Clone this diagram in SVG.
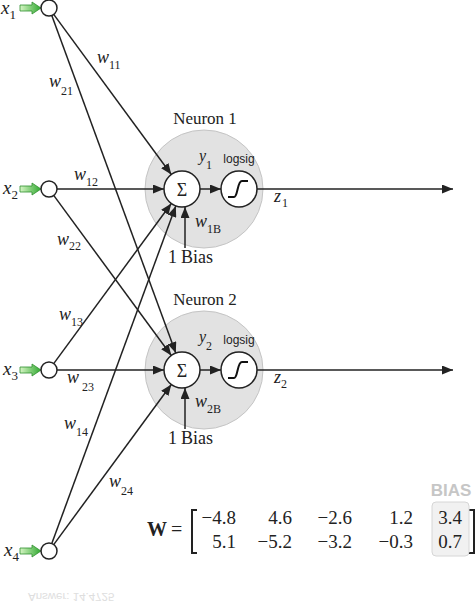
<svg xmlns="http://www.w3.org/2000/svg" width="476" height="602" viewBox="0 0 476 602">
<defs>
<style>
.t{font-family:"Liberation Serif","Times New Roman",serif;fill:#222}
.i{font-style:italic}
.s{font-family:"Liberation Sans",Arial,sans-serif;fill:#222}
.ln{stroke:#222;stroke-width:1.5;fill:none}
.in{fill:#fff;stroke:#222;stroke-width:1.5}
.big{fill:#e2e2e2;stroke:#c4c4c4;stroke-width:1}
.ga{fill:url(#g);stroke:#2f8f2f;stroke-width:0.8}
</style>
<linearGradient id="g" x1="0" y1="0" x2="1" y2="0">
<stop offset="0" stop-color="#d6f5c4"/>
<stop offset="1" stop-color="#2fa82f"/>
</linearGradient>
<marker id="ah" markerUnits="userSpaceOnUse" markerWidth="11" markerHeight="9" refX="11" refY="4.5" orient="auto">
<path d="M0,0 L11,4.5 L0,9 z" fill="#222"/>
</marker>
</defs>
<rect width="476" height="602" fill="#fff"/>

<g id="neuron1">
<circle class="big" cx="204" cy="189" r="59"/>
<text class="t" x="205" y="124" font-size="17" text-anchor="middle">Neuron 1</text>
<circle class="in" cx="182" cy="189" r="18"/>
<text class="t" x="182" y="195.5" font-size="18" text-anchor="middle">Σ</text>
<circle class="in" cx="239" cy="189" r="18"/>
<path d="M228,197 H234 C238,197 237,181 242,181 H248" stroke="#111" stroke-width="2" fill="none"/>
<text class="t i" x="199" y="161" font-size="16">y</text>
<text class="t" x="206" y="169" font-size="12">1</text>
<text class="s" x="239" y="163" font-size="12" text-anchor="middle">logsig</text>
<text class="t i" x="274" y="202" font-size="18">z</text>
<text class="t" x="282" y="207" font-size="12">1</text>
<text class="t i" x="195" y="227" font-size="18">w</text>
<text class="t" x="207" y="233" font-size="12">1B</text>
<text class="t" x="168" y="263" font-size="18">1</text>
<text class="t" x="181" y="263" font-size="18">Bias</text>
</g>

<g id="neuron2">
<circle class="big" cx="204" cy="370" r="59"/>
<text class="t" x="205" y="305" font-size="17" text-anchor="middle">Neuron 2</text>
<circle class="in" cx="182" cy="370" r="18"/>
<text class="t" x="182" y="376.5" font-size="18" text-anchor="middle">Σ</text>
<circle class="in" cx="239" cy="370" r="18"/>
<path d="M228,378 H234 C238,378 237,362 242,362 H248" stroke="#111" stroke-width="2" fill="none"/>
<text class="t i" x="199" y="342" font-size="16">y</text>
<text class="t" x="206" y="350" font-size="12">2</text>
<text class="s" x="239" y="344" font-size="12" text-anchor="middle">logsig</text>
<text class="t i" x="274" y="383" font-size="18">z</text>
<text class="t" x="281" y="388" font-size="12">2</text>
<text class="t i" x="195" y="407" font-size="18">w</text>
<text class="t" x="207" y="413" font-size="12">2B</text>
<text class="t" x="168" y="444" font-size="18">1</text>
<text class="t" x="181" y="444" font-size="18">Bias</text>
</g>

<g id="connectors">
<line class="ln" x1="53.7" y1="14.4" x2="171.3" y2="174.5" marker-end="url(#ah)"/>
<line class="ln" x1="51.8" y1="15.5" x2="175.8" y2="353.1" marker-end="url(#ah)"/>
<line class="ln" x1="57" y1="189" x2="164" y2="189" marker-end="url(#ah)"/>
<line class="ln" x1="53.7" y1="195.4" x2="171.3" y2="355.5" marker-end="url(#ah)"/>
<line class="ln" x1="53.7" y1="363.6" x2="171.3" y2="203.5" marker-end="url(#ah)"/>
<line class="ln" x1="57" y1="370" x2="164" y2="370" marker-end="url(#ah)"/>
<line class="ln" x1="51.8" y1="543.5" x2="175.8" y2="205.9" marker-end="url(#ah)"/>
<line class="ln" x1="53.7" y1="544.6" x2="171.3" y2="384.5" marker-end="url(#ah)"/>
<line class="ln" x1="185" y1="248" x2="185" y2="207" marker-end="url(#ah)"/>
<line class="ln" x1="185" y1="429" x2="185" y2="388" marker-end="url(#ah)"/>
<line class="ln" x1="200" y1="189" x2="221" y2="189" marker-end="url(#ah)"/>
<line class="ln" x1="200" y1="370" x2="221" y2="370" marker-end="url(#ah)"/>
<line class="ln" x1="257" y1="189" x2="453" y2="189" marker-end="url(#ah)"/>
<line class="ln" x1="257" y1="370" x2="453" y2="370" marker-end="url(#ah)"/>
</g>

<g id="weights">
<text class="t i" x="97" y="63" font-size="18">w</text><text class="t" x="109" y="69" font-size="12">11</text>
<text class="t i" x="49" y="87" font-size="18">w</text><text class="t" x="61" y="95" font-size="12">21</text>
<text class="t i" x="74" y="180" font-size="18">w</text><text class="t" x="86" y="186" font-size="12">12</text>
<text class="t i" x="57" y="245" font-size="18">w</text><text class="t" x="69" y="250" font-size="12">22</text>
<text class="t i" x="59" y="320" font-size="18">w</text><text class="t" x="71" y="326" font-size="12">13</text>
<text class="t i" x="67" y="383" font-size="18">w</text><text class="t" x="82" y="391" font-size="12">23</text>
<text class="t i" x="64" y="429" font-size="18">w</text><text class="t" x="76" y="436" font-size="12">14</text>
<text class="t i" x="109" y="487" font-size="18">w</text><text class="t" x="121" y="495" font-size="12">24</text>
</g>

<g id="input1">
<path class="ga" d="M20,5 H32 V2 L41,8 L32,14 V11 H20 z"/>
<circle class="in" cx="49" cy="8" r="8"/>
<text class="t i" x="1" y="14" font-size="19">x</text><text class="t" x="9.5" y="19" font-size="13">1</text>
</g>
<g id="input2">
<path class="ga" d="M20,186 H32 V183 L41,189 L32,195 V192 H20 z"/>
<circle class="in" cx="49" cy="189" r="8"/>
<text class="t i" x="3" y="194" font-size="19">x</text><text class="t" x="11.5" y="199" font-size="13">2</text>
</g>
<g id="input3">
<path class="ga" d="M20,367 H32 V364 L41,370 L32,376 V373 H20 z"/>
<circle class="in" cx="49" cy="370" r="8"/>
<text class="t i" x="3" y="375" font-size="19">x</text><text class="t" x="11.5" y="380" font-size="13">3</text>
</g>
<g id="input4">
<path class="ga" d="M20,548 H32 V545 L41,551 L32,557 V554 H20 z"/>
<circle class="in" cx="49" cy="551" r="8"/>
<text class="t i" x="4" y="556" font-size="19">x</text><text class="t" x="12.5" y="561" font-size="13">4</text>
</g>

<g id="matrix">
<text class="t" x="147" y="536" font-size="20" font-weight="bold">W</text>
<text class="t" x="171" y="536" font-size="20">=</text>
<path d="M197,510 H192 V553 H197" stroke="#222" stroke-width="2" fill="none"/>
<path d="M469,510 H474 V553 H469" stroke="#222" stroke-width="2" fill="none"/>
<rect x="432" y="502" width="37" height="54" rx="4" fill="#f1f1f1" stroke="#d6d6d6" stroke-width="1"/>
<text class="s" x="451" y="496" font-size="17" font-weight="bold" style="fill:#c6c6c6" text-anchor="middle">BIAS</text>
<g class="t" font-size="19" text-anchor="end">
<text x="236" y="524">−4.8</text>
<text x="292" y="524">4.6</text>
<text x="352" y="524">−2.6</text>
<text x="413" y="524">1.2</text>
<text x="462" y="524">3.4</text>
<text x="236" y="548">5.1</text>
<text x="292" y="548">−5.2</text>
<text x="352" y="548">−3.2</text>
<text x="413" y="548">−0.3</text>
<text x="462" y="548">0.7</text>
</g>
</g>

<text class="s" x="28" y="0" font-size="11.5" transform="matrix(1 0 0 -1 0 593)" style="fill:#dedede">Answer: 14.4725</text>
</svg>
